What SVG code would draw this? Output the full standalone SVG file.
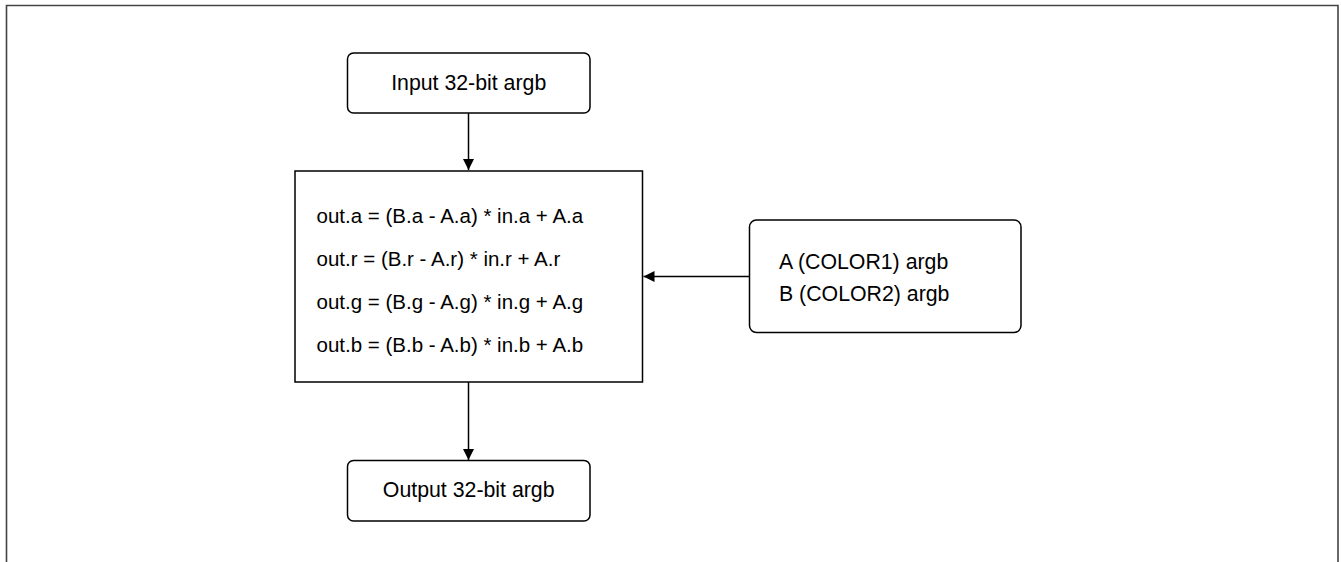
<svg xmlns="http://www.w3.org/2000/svg" width="1341" height="562" viewBox="0 0 1341 562">
<style>
.box{fill:#fff;stroke:#000;stroke-width:1.5}
.t{font-family:"Liberation Sans",Arial,sans-serif;font-size:21.3px;fill:#000}
.f{font-size:20.5px}
.c{fill:none;stroke:#000;stroke-width:1.5}
</style>
<defs>
<marker id="ah" markerWidth="11" markerHeight="11" refX="11" refY="5.5" orient="auto" markerUnits="userSpaceOnUse">
<path d="M0,0 L11,5.5 L0,11 Z" fill="#000"/>
</marker>
</defs>
<rect width="1341" height="562" fill="#fff"/>
<path d="M6.5,575 V5.5 H1338 V575" fill="none" stroke="#444" stroke-width="1.6"/>
<g id="connectors">
<line class="c" x1="468.5" y1="113" x2="468.5" y2="170" marker-end="url(#ah)"/>
<line class="c" x1="749" y1="276.5" x2="643.5" y2="276.5" marker-end="url(#ah)"/>
<line class="c" x1="468.5" y1="382" x2="468.5" y2="460" marker-end="url(#ah)"/>
</g>
<g id="input">
<rect class="box" x="347.5" y="53" width="242.5" height="60" rx="6"/>
<text class="t" x="468.7" y="90" text-anchor="middle">Input 32-bit argb</text>
</g>
<g id="blend">
<rect class="box" x="295" y="171" width="347.5" height="211"/>
<text class="t f" x="316.5" y="223">out.a = (B.a - A.a) * in.a + A.a</text>
<text class="t f" x="316.5" y="266">out.r = (B.r - A.r) * in.r + A.r</text>
<text class="t f" x="316.5" y="309">out.g = (B.g - A.g) * in.g + A.g</text>
<text class="t f" x="316.5" y="352">out.b = (B.b - A.b) * in.b + A.b</text>
</g>
<g id="colors">
<rect class="box" x="749.5" y="220" width="271.5" height="112.5" rx="7"/>
<text class="t" x="779" y="269">A (COLOR1) argb</text>
<text class="t" x="779" y="300.5">B (COLOR2) argb</text>
</g>
<g id="output">
<rect class="box" x="347.5" y="460.5" width="242.5" height="60.5" rx="6"/>
<text class="t" x="468.7" y="497" text-anchor="middle">Output 32-bit argb</text>
</g>
</svg>
